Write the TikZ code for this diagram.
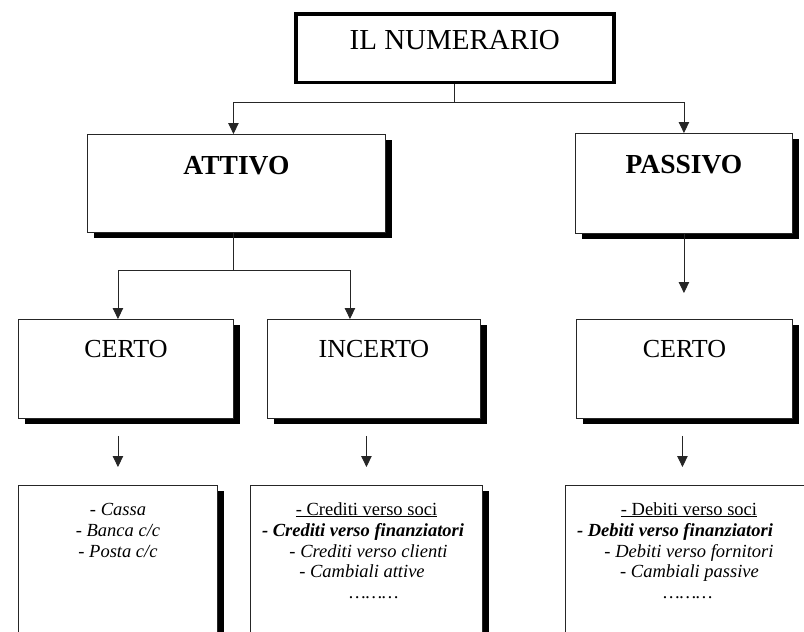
\documentclass[tikz,border=0pt]{standalone}
\usepackage{fontspec}
\setmainfont{Liberation Serif}
\usetikzlibrary{arrows.meta,positioning,calc,shadows}

\begin{document}
\begin{tikzpicture}[x=1pt, y=-1pt,
  box/.style={draw=black!85, line width=0.9pt, fill=white, inner sep=0pt, anchor=north west,
    drop shadow={shadow xshift=7pt, shadow yshift=-6pt, fill=black, opacity=1}},
  headbox/.style={draw=black, line width=3.5pt, fill=white, inner sep=0pt, anchor=north west},
  arr/.style={-{Triangle[width=10.5pt,length=11pt]}, line width=0.9pt, black!85},
  conn/.style={line width=0.9pt, black!85},
  voce/.style={anchor=base, inner sep=0pt, font=\fontsize{18.5}{21}\selectfont}
]
  \useasboundingbox (0,0) rectangle (804,632);

  % Titolo
  \node[headbox, minimum width=318pt, text height=36pt, text depth=32.5pt,
    font=\fontsize{29}{32}\selectfont] (num) at (294,12) {IL NUMERARIO};

  % Attivo e passivo
  \node[box, minimum width=298pt, text height=40pt, text depth=58pt,
    font=\fontsize{27.5}{30}\selectfont\bfseries] (attivo) at (87,134) {ATTIVO};
  \node[box, minimum width=217pt, text height=40pt, text depth=60pt,
    font=\fontsize{27.5}{30}\selectfont\bfseries] (passivo) at (575,133) {PASSIVO};

  % Certo / incerto
  \node[box, minimum width=215pt, text height=38pt, text depth=61pt,
    font=\fontsize{26}{30}\selectfont] (certo1) at (18,319) {CERTO};
  \node[box, minimum width=213pt, text height=38pt, text depth=61pt,
    font=\fontsize{26}{30}\selectfont] (incerto) at (267,319) {INCERTO};
  \node[box, minimum width=216pt, text height=38pt, text depth=61pt,
    font=\fontsize{26}{30}\selectfont] (certo2) at (576,319) {CERTO};

  % Elenchi
  \node[box, minimum width=199pt, minimum height=160pt] (lista1) at (18,485) {};
  \node[box, minimum width=232pt, minimum height=160pt] (lista2) at (250,485) {};
  \node[box, minimum width=265pt, minimum height=160pt] (lista3) at (565,485) {};

  \node[voce] (cassa) at (118,515) {\textit{- Cassa}};
  \node[voce] (banca) at (118,536) {\textit{- Banca c/c}};
  \node[voce] (posta) at (118,557) {\textit{- Posta c/c}};

  \node[voce] (crsoci) at (366.5,515) {\underline{- Crediti verso soci}};
  \node[voce] (crfin) at (363,536) {\textbf{\textit{- Crediti verso finanziatori}}};
  \node[voce] (crcli) at (368.5,557) {\textit{- Crediti verso clienti}};
  \node[voce] (camatt) at (362,577) {\textit{- Cambiali attive}};
  \node[voce] (puntiA) at (374,598) {\textit{………}};

  \node[voce] (debsoci) at (689,515) {\underline{- Debiti verso soci}};
  \node[voce] (debfin) at (675,536) {\textbf{\textit{- Debiti verso finanziatori}}};
  \node[voce] (debforn) at (689,557) {\textit{- Debiti verso fornitori}};
  \node[voce] (campas) at (689.5,577) {\textit{- Cambiali passive}};
  \node[voce] (puntiP) at (688,598) {\textit{………}};

  % Collegamenti
  \coordinate (nodo) at ([yshift=-18pt]num.south);
  \draw[conn] (num.south) -- (nodo);
  \draw[arr] (nodo) -| ([xshift=-3pt]attivo.north);
  \draw[arr] (nodo) -| (passivo.north);

  \coordinate (bivio) at ([xshift=-3pt,yshift=-38pt]attivo.south);
  \draw[conn] ([xshift=-3pt]attivo.south) -- (bivio);
  \draw[arr] (bivio) -| ([xshift=-8pt]certo1.north);
  \draw[arr] (bivio) -| ([xshift=-24pt]incerto.north);

  \draw[arr, shorten >=26pt] (passivo.south) -- (passivo.south |- certo2.north);

  \draw[arr, shorten <=17pt, shorten >=18pt] (lista1.north |- certo1.south) -- (lista1.north);
  \draw[arr, shorten <=17pt, shorten >=18pt] (lista2.north |- incerto.south) -- (lista2.north);
  \draw[arr, shorten <=17pt, shorten >=18pt] ([xshift=-2pt]certo2.south) -- ([xshift=-2pt]certo2.south |- lista3.north);
\end{tikzpicture}
\end{document}
